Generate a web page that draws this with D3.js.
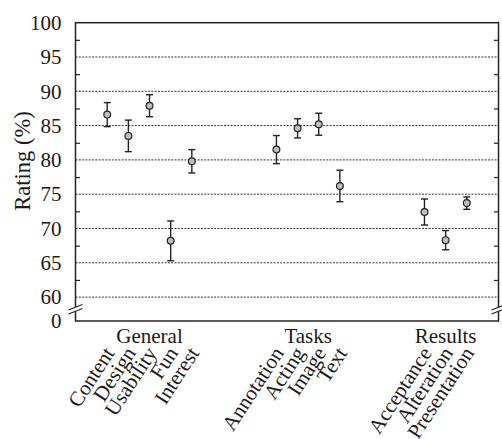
<!DOCTYPE html>
<html>
<head>
<meta charset="utf-8">
<script src="https://cdn.jsdelivr.net/npm/d3@7"></script>
<style>
  body { margin: 0; background: #fff; }
  text { font-family: "Liberation Serif", "Times New Roman", serif; fill: #1a1a1a; }
</style>
</head>
<body>
<div id="chart"></div>
<script>
// data
var groups = ['General', 'Tasks', 'Results'];
var items = ['Content', 'Design', 'Usability', 'Fun', 'Interest',
             'Annotation', 'Acting', 'Image', 'Text',
             'Acceptance', 'Alteration', 'Presentation'];
var itemGroup = [0, 0, 0, 0, 0, 1, 1, 1, 1, 2, 2, 2];
var itemSlot = [0, 1, 2, 3, 4, 8, 9, 10, 11, 15, 16, 17];
var means = [86.6, 83.5, 87.9, 68.2, 79.8, 81.5, 84.6, 85.2, 76.2, 72.4, 68.3, 73.7];
var errors = [1.75, 2.3, 1.6, 2.9, 1.7, 2.05, 1.4, 1.6, 2.3, 1.9, 1.4, 0.9];
var yTicks = [0, 60, 65, 70, 75, 80, 85, 90, 95, 100];
var gridTicks = [60, 65, 70, 75, 80, 85, 90, 95];
var minorTicks = [62.5, 67.5, 72.5, 77.5, 82.5, 87.5, 92.5, 97.5];

var W = 502, H = 439;
var plotL = 75.5, plotR = 498.5, plotT = 22.7, plotB = 321;

var svg = d3.select('#chart').append('svg')
  .attr('width', W)
  .attr('height', H);

var x = d3.scaleLinear().domain([-1.5, 18.5]).range([plotL, plotR]);
// broken axis: 0 sits at the bottom, 60..100 fills the rest
var y = d3.scaleLinear().domain([0, 60, 100]).range([plotB, 297.1, plotT]);

// dashed grid
svg.append('g').selectAll('line.grid')
  .data(gridTicks)
  .enter().append('line')
  .attr('class', 'grid')
  .attr('x1', plotL).attr('x2', plotR)
  .attr('y1', function(d) { return y(d); })
  .attr('y2', function(d) { return y(d); })
  .attr('stroke', '#333')
  .attr('stroke-width', 1)
  .attr('stroke-dasharray', '2,1.3');

// minor ticks inside both sides
var minorL = d3.axisLeft(y).tickValues(minorTicks).tickSize(-4.5).tickFormat('');
var minorR = d3.axisRight(y).tickValues(minorTicks).tickSize(-4.5).tickFormat('');
svg.append('g').attr('transform', 'translate(' + plotL + ',0)').call(minorL)
  .call(function(g) { g.select('.domain').remove(); })
  .selectAll('line').attr('stroke', '#222').attr('stroke-width', 1.2);
svg.append('g').attr('transform', 'translate(' + plotR + ',0)').call(minorR)
  .call(function(g) { g.select('.domain').remove(); })
  .selectAll('line').attr('stroke', '#222').attr('stroke-width', 1.2);

// tick labels
var yAxis = d3.axisLeft(y).tickValues(yTicks).tickSize(0).tickPadding(14);
svg.append('g').attr('transform', 'translate(' + plotL + ',0)').call(yAxis)
  .call(function(g) { g.select('.domain').remove(); })
  .selectAll('text')
  .attr('font-size', 21)
  .attr('font-family', '"Liberation Serif", serif')
  .attr('fill', '#1a1a1a');

// frame
svg.append('rect')
  .attr('x', plotL).attr('y', plotT)
  .attr('width', plotR - plotL).attr('height', plotB - plotT)
  .attr('fill', 'none')
  .attr('stroke', '#222')
  .attr('stroke-width', 1.5);

// axis break marks
[plotL, plotR].forEach(function(bx) {
  var by = 307;
  svg.append('polygon')
    .attr('points', [[bx - 7, by + 3], [bx + 7, by - 2.5], [bx + 7, by + 1.5], [bx - 7, by + 7]].join(' '))
    .attr('fill', '#fff');
  [0, 4].forEach(function(off) {
    svg.append('line')
      .attr('x1', bx - 7).attr('y1', by + 3 + off)
      .attr('x2', bx + 7).attr('y2', by - 2.5 + off)
      .attr('stroke', '#222').attr('stroke-width', 1.2);
  });
});

// y label
svg.append('text')
  .attr('transform', 'translate(30,161) rotate(-90)')
  .attr('text-anchor', 'middle')
  .attr('font-size', 22.5)
  .text('Rating (%)');

// error bars
var marks = svg.append('g');
var idx = d3.range(items.length);
var capW = 3.5;
marks.selectAll('line.bar')
  .data(idx).enter().append('line')
  .attr('x1', function(i) { return x(itemSlot[i]); })
  .attr('x2', function(i) { return x(itemSlot[i]); })
  .attr('y1', function(i) { return y(means[i] + errors[i]); })
  .attr('y2', function(i) { return y(means[i] - errors[i]); })
  .attr('stroke', '#222').attr('stroke-width', 1.4);
[1, -1].forEach(function(s) {
  marks.selectAll('line.cap' + s)
    .data(idx).enter().append('line')
    .attr('x1', function(i) { return x(itemSlot[i]) - capW; })
    .attr('x2', function(i) { return x(itemSlot[i]) + capW; })
    .attr('y1', function(i) { return y(means[i] + s * errors[i]); })
    .attr('y2', function(i) { return y(means[i] + s * errors[i]); })
    .attr('stroke', '#222').attr('stroke-width', 1.4);
});
marks.selectAll('circle')
  .data(idx).enter().append('circle')
  .attr('cx', function(i) { return x(itemSlot[i]); })
  .attr('cy', function(i) { return y(means[i]); })
  .attr('r', 3.4)
  .attr('fill', '#bdbdbd')
  .attr('stroke', '#222')
  .attr('stroke-width', 1.2);

// group labels
svg.selectAll('text.group')
  .data(groups).enter().append('text')
  .attr('class', 'group')
  .attr('x', function(g, gi) {
    var s = itemSlot.filter(function(d, i) { return itemGroup[i] === gi; });
    return x(d3.mean(s));
  })
  .attr('y', 343)
  .attr('text-anchor', 'middle')
  .attr('font-size', 21)
  .text(function(d) { return d; });

// rotated item labels
svg.selectAll('text.item')
  .data(idx).enter().append('text')
  .attr('class', 'item')
  .attr('transform', function(i) {
    return 'translate(' + (x(itemSlot[i]) + 8) + ',353) rotate(-57)';
  })
  .attr('text-anchor', 'end')
  .attr('font-size', 21)
  .text(function(i) { return items[i]; });
</script>
</body>
</html>
